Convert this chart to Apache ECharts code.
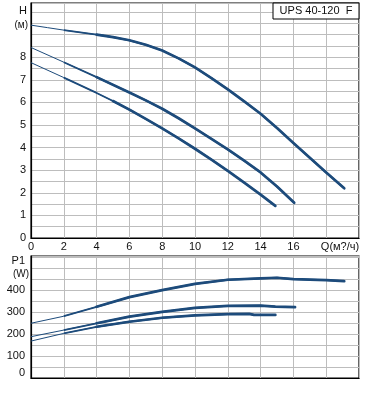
<!DOCTYPE html>
<html><head><meta charset="utf-8">
<script src="https://cdn.jsdelivr.net/npm/echarts@6/dist/echarts.min.js"></script>
<style>html,body{margin:0;padding:0;background:#fff}#c{width:371px;height:414px}</style>
</head><body><div id="c"></div>
<script>
// ---- data ----
const title = 'UPS 40-120  F';
const xTicks = [0,2,4,6,8,10,12,14,16];
const hTicks = [0,1,2,3,4,5,6,7,8];
const pTicks = [100,200,300,400];
// H curves (Q m3/h, H m)
const hHigh = [[0,9.42],[1,9.31],[2,9.2],[3,9.1],[4,9.0],[5,8.89],[6,8.75],[7,8.55],[8,8.3],[9,7.95],[10,7.55],[11,7.08],[12,6.58],[13,6.05],[14,5.5],[15,4.87],[16,4.2],[17,3.55],[18,2.9],[19.1,2.2]];
const hMid  = [[0,8.43],[2,7.78],[4,7.12],[6,6.44],[7,6.09],[8,5.72],[9,5.3],[10,4.85],[11,4.39],[12,3.92],[13,3.42],[14,2.9],[15,2.28],[16.05,1.56]];
const hLow  = [[0,7.76],[2,7.1],[4,6.42],[5,6.06],[6,5.68],[7,5.27],[8,4.85],[9,4.41],[10,3.95],[11,3.47],[12,2.97],[13,2.45],[14,1.92],[14.9,1.42]];
// P1 curves (Q m3/h, P1 W)
const pHigh = [[0,249],[2,281],[4,324],[6,368],[8,400],[10,428],[12,447],[14,453],[15,456],[16,450],[18,445],[19.1,441]];
const pMid  = [[0,188],[2,218],[4,249],[6,279],[8,301],[10,319],[12,328],[14,329],[14.9,325],[16.1,322]];
const pLow  = [[0,168],[2,203],[4,233],[6,256],[8,274],[10,285],[12,291],[13.3,292],[13.6,287],[14.9,287]];

const C = '#1d4b7b';
function curve(d, xi, yi, a, b) {
  const base = {type:'line', xAxisIndex:xi, yAxisIndex:yi, showSymbol:false, smooth:false, animation:false};
  return [
    Object.assign({}, base, {data:d, lineStyle:{color:C, width:1}, z:3}),
    Object.assign({}, base, {data:d.filter(p=>p[0]>=a), lineStyle:{color:C, width:1.8}, z:4}),
    Object.assign({}, base, {data:d.filter(p=>p[0]>=b), lineStyle:{color:C, width:2.7, cap:'round', join:'round'}, z:5})
  ];
}

const font = {fontFamily:'Liberation Sans, Arial, sans-serif', fontSize:11, color:'#111'};
const F11 = '11px Liberation Sans, Arial, sans-serif', F10 = '10px Liberation Sans, Arial, sans-serif';
const chart = echarts.init(document.getElementById('c'), null, {renderer:'canvas'});
chart.setOption({
  animation:false,
  grid:[
    {left:31, top:3, width:328, height:235, show:true, borderColor:'#000', borderWidth:1.2, backgroundColor:'#fff'},
    {left:31, top:256, width:328, height:122, show:true, borderColor:'#000', borderWidth:1.2, backgroundColor:'#fff'}
  ],
  xAxis:[
    {type:'value', gridIndex:0, min:0, max:20, interval:2,
     axisLine:{show:true, lineStyle:{color:'#000', width:1.2}}, axisTick:{show:false},
     splitLine:{lineStyle:{color:'#bdbdbd', width:1}},
     axisLabel:Object.assign({margin:3, formatter:v=>xTicks.includes(v)?String(v):''}, font)},
    {type:'value', gridIndex:1, min:0, max:20, interval:2,
     axisLine:{show:true, lineStyle:{color:'#000', width:1.2}}, axisTick:{show:false},
     splitLine:{lineStyle:{color:'#bdbdbd', width:1}}, axisLabel:{show:false}}
  ],
  yAxis:[
    {type:'value', gridIndex:0, min:0, max:10.4, interval:0.5,
     axisLine:{show:true, lineStyle:{color:'#000', width:1.2}}, axisTick:{show:false},
     splitLine:{lineStyle:{color:'#bdbdbd', width:1}},
     axisLabel:Object.assign({margin:5, formatter:v=>hTicks.includes(v)?String(v):''}, font)},
    {type:'value', gridIndex:1, min:0, max:555, interval:50,
     axisLine:{show:true, lineStyle:{color:'#000', width:1.2}}, axisTick:{show:false},
     splitLine:{lineStyle:{color:'#bdbdbd', width:1}},
     axisLabel:Object.assign({margin:6, formatter:v=>pTicks.includes(v)?String(v):''}, font)}
  ],
  graphic:[
    {type:'rect', shape:{x:273, y:3, width:86, height:16}, style:{fill:'#fff', stroke:'#000', lineWidth:1}, z:10},
    {type:'text', x:316, y:11, style:{text:title, align:'center', verticalAlign:'middle', font:F11, fill:'#111'}, z:11},
    {type:'text', x:27, y:11, style:{text:'H', align:'right', verticalAlign:'middle', font:F11, fill:'#111'}},
    {type:'text', x:28, y:25, style:{text:'(м)', align:'right', verticalAlign:'middle', font:F10, fill:'#111'}},
    {type:'text', x:340, y:247, style:{text:'Q(м?/ч)', align:'center', verticalAlign:'middle', font:F11, fill:'#111'}},
    {type:'text', x:25, y:261, style:{text:'P1', align:'right', verticalAlign:'middle', font:F11, fill:'#111'}},
    {type:'text', x:29, y:274, style:{text:'(W)', align:'right', verticalAlign:'middle', font:F10, fill:'#111'}},
    {type:'text', x:25, y:373, style:{text:'0', align:'right', verticalAlign:'middle', font:F11, fill:'#111'}}
  ],
  series:[].concat(
    curve(hHigh,0,0,2,4),
    curve(hMid,0,0,2,4),
    curve(hLow,0,0,2,5),
    curve(pHigh,1,1,2,4),
    curve(pMid,1,1,2,4),
    curve(pLow,1,1,2,4)
  )
});
</script></body></html>
